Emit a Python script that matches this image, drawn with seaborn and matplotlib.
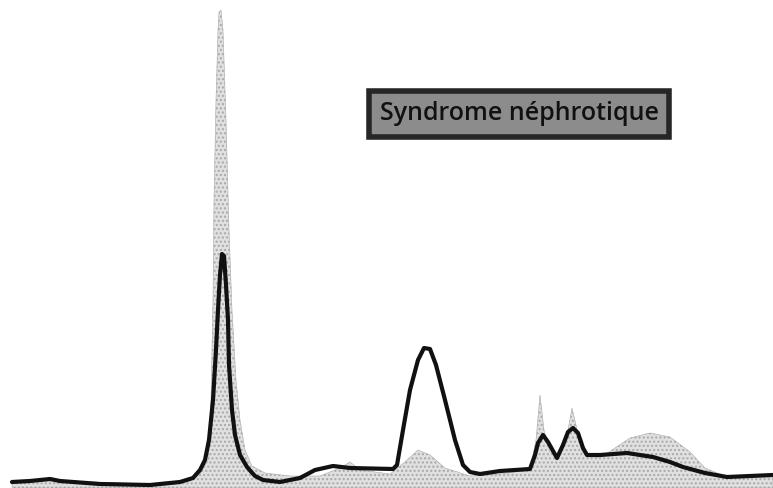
# Electrophorese des proteines seriques - syndrome nephrotique
import numpy as np
import pandas as pd
import matplotlib
matplotlib.use("Agg")
import matplotlib.pyplot as plt
import seaborn as sns

# profil du patient (trait noir), hauteurs
patient_x = [12, 30, 50, 60, 100, 150, 180, 193, 200, 205, 209, 213, 216, 218, 220, 222,
             224, 226, 228, 229, 232, 235, 240, 247, 255, 263, 280, 300, 315, 333, 350,
             393, 397, 403, 410, 418, 424, 430, 436, 445, 455, 463, 470, 480, 500, 530,
             535, 538, 543, 548, 557, 563, 568, 573, 578, 583, 587, 600, 627, 653, 670,
             683, 705, 727, 773]
patient_h = [6, 7, 9, 7, 4, 3, 6, 10, 18, 28, 48, 88, 138, 178, 213, 234,
             232, 203, 168, 123, 78, 53, 33, 21, 12, 8, 6, 10, 18, 22, 20,
             19, 23, 58, 98, 128, 140, 139, 123, 88, 48, 23, 16, 14, 17, 19,
             33, 45, 53, 46, 30, 43, 56, 60, 55, 40, 33, 33, 35, 31, 26,
             21, 15, 11, 13]

# profil normal de reference (zone grise pointillee)
normal_x = [12, 40, 50, 60, 150, 190, 200, 208, 211, 213, 214, 216, 218, 219, 221, 223,
            226, 229, 232, 236, 240, 245, 252, 265, 290, 320, 340, 350, 360, 390, 405,
            418, 430, 445, 470, 500, 530, 536, 540, 544, 550, 560, 568, 572, 576, 582,
            600, 615, 630, 650, 670, 690, 705, 727, 773]
normal_h = [5, 7, 10, 7, 4, 8, 14, 28, 88, 188, 288, 388, 458, 476, 478, 458,
            368, 258, 178, 108, 68, 38, 22, 15, 12, 12, 20, 26, 18, 14, 26,
            38, 33, 20, 12, 14, 18, 48, 93, 58, 36, 33, 58, 80, 63, 36,
            30, 40, 50, 55, 51, 36, 20, 11, 13]

titre = "Syndrome néphrotique"

sns.set_style("white")
fig = plt.figure(figsize=(7.73, 4.88), dpi=100)
ax = fig.add_axes([0, 0, 1, 1])

ax.fill_between(normal_x, 0, normal_h, facecolor="#e0e0e0", edgecolor="#a8a8a8",
                hatch="....", linewidth=0.4, zorder=1)

df = pd.DataFrame({"x": patient_x, "h": patient_h})
sns.lineplot(data=df, x="x", y="h", color="#111111", linewidth=3, sort=False,
             ax=ax, zorder=3)

ax.text(519, 374, titre, fontsize=18, color="#111111", ha="center", va="center",
        family="Open Sans", fontweight="semibold", zorder=4,
        bbox=dict(boxstyle="square,pad=0.42", facecolor="#8c8c8c",
                  edgecolor="#262626", linewidth=4))

ax.set_xlim(0, 773)
ax.set_ylim(0, 488)
ax.set_axis_off()
fig.savefig("out.png", dpi=100)
